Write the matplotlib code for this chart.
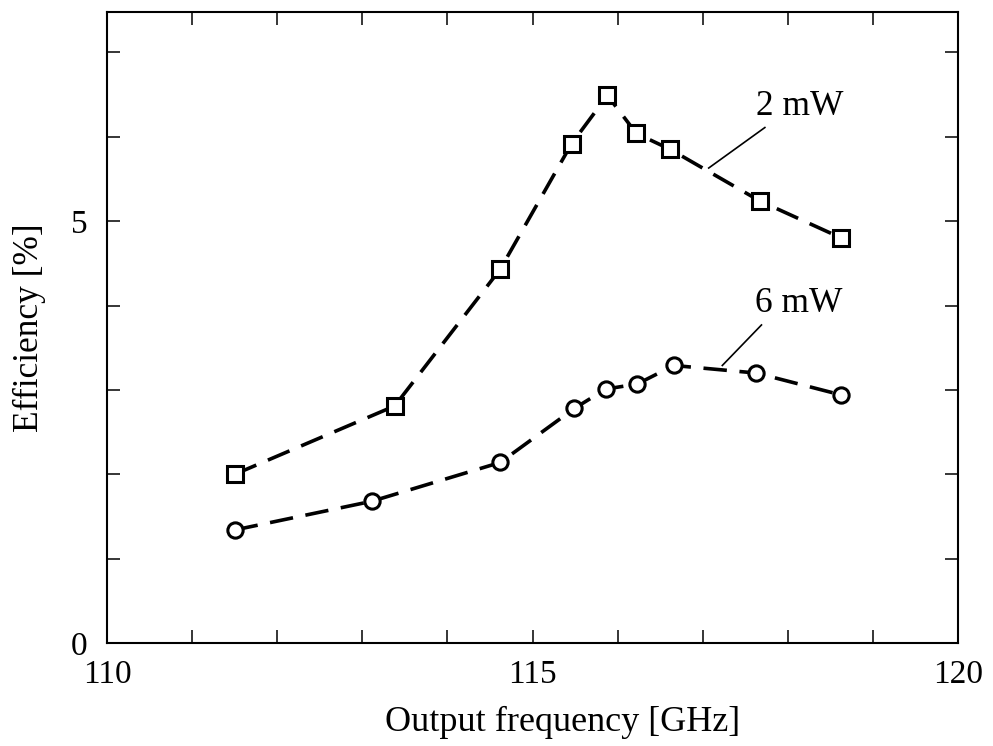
import matplotlib
matplotlib.use('Agg')
import matplotlib.pyplot as plt
from matplotlib.ticker import MultipleLocator

# data
freq_2mw = [111.5, 113.38, 114.62, 115.46, 115.88, 116.22, 116.62, 117.67, 118.63]
eff_2mw = [2.00, 2.81, 4.43, 5.92, 6.49, 6.04, 5.85, 5.24, 4.80]
freq_6mw = [111.5, 113.11, 114.62, 115.49, 115.86, 116.23, 116.66, 117.63, 118.63]
eff_6mw = [1.34, 1.68, 2.14, 2.78, 3.01, 3.07, 3.29, 3.20, 2.94]

plt.rcParams['font.family'] = ['Liberation Serif', 'DejaVu Serif']

def main():
    fig = plt.figure(figsize=(9.93, 7.46), dpi=100)
    ax = fig.add_axes([0.1078, 0.138, 0.857, 0.846])

    dash = (0, (6.5, 3.5))
    ax.plot(freq_2mw, eff_2mw, color='black', lw=2.6, ls=dash,
            marker='s', ms=11, mfc='white', mec='black', mew=2.2)
    ax.plot(freq_6mw, eff_6mw, color='black', lw=2.6, ls=dash,
            marker='o', ms=11, mfc='white', mec='black', mew=2.2)

    # leader lines for the labels
    ax.plot([117.73, 117.07], [6.11, 5.63], color='black', lw=1.2)
    ax.plot([117.69, 117.23], [3.77, 3.29], color='black', lw=1.2)
    ax.text(117.62, 6.26, '2 mW', fontsize=25.5, ha='left', va='baseline')
    ax.text(117.61, 3.92, '6 mW', fontsize=25.5, ha='left', va='baseline')

    ax.set_xlim(110, 120)
    ax.set_ylim(0, 7.48)
    ax.xaxis.set_major_locator(MultipleLocator(5))
    ax.xaxis.set_minor_locator(MultipleLocator(1))
    ax.yaxis.set_major_locator(MultipleLocator(5))
    ax.yaxis.set_minor_locator(MultipleLocator(1))
    ax.tick_params(which='both', direction='in', top=True, right=True,
                   length=9.5, width=1.1, labelsize=24)
    ax.tick_params(axis='x', pad=12)
    ax.tick_params(axis='y', pad=14)

    for s in ax.spines.values():
        s.set_linewidth(1.5)

    ax.set_xlabel('Output frequency [GHz]', fontsize=26)
    ax.xaxis.set_label_coords(0.535, -0.1)
    ax.set_ylabel('Efficiency [%]', fontsize=25.5, labelpad=18)

    fig.savefig('out.png', dpi=100)

if __name__ == '__main__':
    main()
